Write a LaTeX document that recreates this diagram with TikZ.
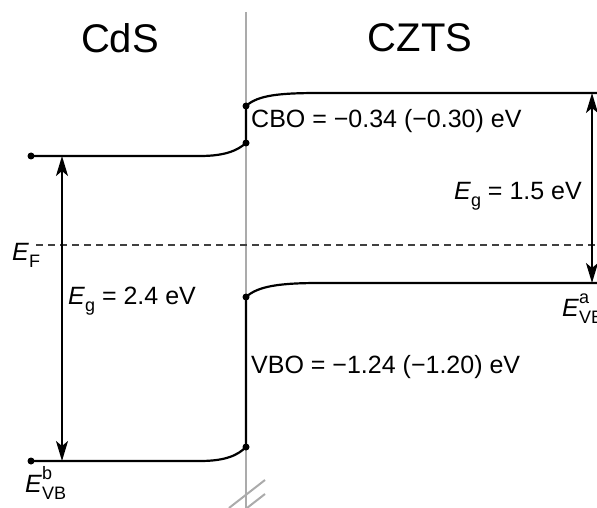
\documentclass[tikz,border=0pt]{standalone}
\usepackage{fontspec}
\setmainfont{Liberation Sans}
\usetikzlibrary{arrows.meta}
\newcommand\mysub[1]{\raisebox{-0.28em}{\fontsize{18}{20}\selectfont #1}}
\newcommand\mysup[1]{\raisebox{0.5em}{\fontsize{18}{20}\selectfont #1}}
\begin{document}
\begin{tikzpicture}[x=1pt,y=-1pt,
  band/.style={line width=2.2pt},
  dotnode/.style={circle,fill=black,inner sep=0pt,minimum size=7pt},
  gaparrow/.style={line width=1.8pt,{Stealth[length=20pt,width=12pt,inset=5pt]}-{Stealth[length=20pt,width=12pt,inset=5pt]}},
  lbl/.style={font=\fontsize{25}{29}\selectfont, inner sep=0pt},
  ttl/.style={font=\fontsize{40}{48}\selectfont, inner sep=0pt},
  iface/.style={line width=2pt,black!33}]
\useasboundingbox (0,0) rectangle (597,508);
\clip (0,0) rectangle (597,508);
% interface
\coordinate (itop) at (246,12);
\coordinate (ibot) at (246,508);
\draw[iface] (itop) -- (ibot);
\coordinate (s1a) at (229,508); \coordinate (s1b) at (265,480);
\coordinate (s2a) at (247,508); \coordinate (s2b) at (265,494);
\draw[iface] (s1a) -- (s1b);
\draw[iface] (s2a) -- (s2b);
% titles
\node[ttl] (cds) at (120,38) {CdS};
\node[ttl] (czts) at (420,38) {CZTS};
% Fermi level
\coordinate (fl) at (36,245);
\coordinate (fr) at (597,245);
\draw[line width=1.2pt,black!75,dash pattern=on 7pt off 5pt] (fl) -- (fr);
\node[lbl,anchor=base west] (ef) at (12,260) {\textit{E}\mysub{F}};
% dots
\node[dotnode] (cbL) at (31,156) {};
\node[dotnode] (cbI1) at (246,143) {};
\node[dotnode] (cbI2) at (246,106) {};
\node[dotnode] (vbL) at (31,461) {};
\node[dotnode] (vbI1) at (246,447) {};
\node[dotnode] (vbI2) at (246,297) {};
\coordinate (cbR) at (600,93);
\coordinate (vbR) at (600,283);
% bands
\draw[band] (cbL.center) -- (200,156) .. controls (226,156) and (238,150) .. (cbI1.center)
  -- (cbI2.center) .. controls (258,95) and (280,93) .. (320,93) -- (cbR);
\draw[band] (vbL.center) -- (200,461) .. controls (226,461) and (238,455) .. (vbI1.center)
  -- (vbI2.center) .. controls (258,286) and (280,283) .. (320,283) -- (vbR);
% gap arrows
\coordinate (g1t) at (62,156); \coordinate (g1b) at (62,461);
\coordinate (g2t) at (592,93); \coordinate (g2b) at (592,283);
\draw[gaparrow] (g1t) -- (g1b);
\draw[gaparrow] (g2t) -- (g2b);
% labels
\node[lbl,anchor=base west] (eg1) at (68,304) {\textit{E}\mysub{g} = 2.4 eV};
\node[lbl,anchor=base east] (eg2) at (582,199) {\textit{E}\mysub{g} = 1.5 eV};
\node[lbl,anchor=base west] (cbo) at (251,128) {CBO = −0.34 (−0.30) eV};
\node[lbl,anchor=base west] (vbo) at (251,373) {VBO = −1.24 (−1.20) eV};
\node[lbl,anchor=base west] (evb) at (25,492) {\textit{E}\rlap{\mysup{b}}\mysub{VB}};
\node[lbl,anchor=base west] (eva) at (562,316) {\textit{E}\rlap{\mysup{a}}\mysub{VB}};
\end{tikzpicture}
\end{document}
